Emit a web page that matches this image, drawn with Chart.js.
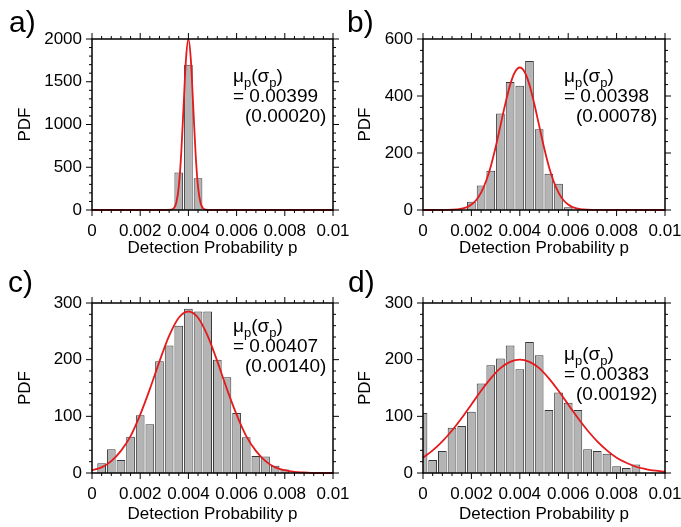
<!DOCTYPE html>
<html>
<head>
<meta charset="utf-8">
<script src="https://cdn.jsdelivr.net/npm/chart.js@4.4.0/dist/chart.umd.min.js"></script>
<style>
  body { margin: 0; background: #fff; width: 681px; height: 527px; position: relative; overflow: hidden; }
  canvas { position: absolute; }
</style>
</head>
<body>
<canvas id="pa" width="360" height="263" style="left:0;top:0"></canvas>
<canvas id="pb" width="341" height="263" style="left:340px;top:0"></canvas>
<canvas id="pc" width="360" height="264" style="left:0;top:263px"></canvas>
<canvas id="pd" width="341" height="264" style="left:340px;top:263px"></canvas>
<script>
// histogram bin centres (width 0.0004)
const bins = [0, 0.0004, 0.0008, 0.0012, 0.0016, 0.002, 0.0024, 0.0028, 0.0032, 0.0036, 0.004, 0.0044, 0.0048,
    0.0052, 0.0056, 0.006, 0.0064, 0.0068, 0.0072, 0.0076, 0.008, 0.0084, 0.0088, 0.0092, 0.0096, 0.01];

const histA = [null, null, null, null, null, null, null, null, null, 440, 1700, 370, null,
    null, null, null, null, null, null, null, null, null, null, null, null, null];
const histB = [null, null, null, null, null, 29, 86, 138, 339, 449, 436, 523, 283,
    127, 92, 10, null, null, null, null, null, null, null, null, null, null];
const histC = [null, 17, 42, 23, 64, 102, 86, 197, 225, 260, 290, 285, 285,
    200, 169, 106, 63, 30, 29, 13, 6, null, null, null, null, null];
const histD = [106, 23, 39, 80, 83, 108, 158, 190, 202, 225, 183, 231, 208,
    111, 142, 124, 111, 42, 39, 34, 12, 9, 15, null, null, null];

// fitted normal curves
const fitAx = [0, 0.003, 0.0033, 0.0034, 0.0035, 0.0036, 0.0037, 0.0038, 0.0039, 0.004, 0.0041, 0.0042,
    0.0043, 0.0044, 0.0045, 0.0046, 0.0047, 0.005, 0.01];
const fitA = [0, 0, 4, 22, 88, 270, 650, 1213, 1765, 2000, 1765, 1213, 650, 270, 88, 22, 4, 0, 0];
const fitBx = [0, 0.001, 0.0014, 0.0018, 0.002, 0.0022, 0.0024, 0.0026, 0.0028, 0.003, 0.0032, 0.0034, 0.0036,
    0.0038, 0.004, 0.0042, 0.0044, 0.0046, 0.0048, 0.005, 0.0052, 0.0054, 0.0056, 0.0058, 0.006, 0.0062,
    0.0066, 0.007, 0.01];
const fitB = [0, 0.3, 2, 9, 19, 35, 61, 100, 153, 220, 296, 372, 439, 484, 500, 484, 439, 372, 296, 220,
    153, 100, 61, 35, 19, 9, 2, 0.3, 0];
const fitC = [5, 10, 21, 39, 65, 103, 148, 197, 242, 274, 285, 274, 242, 197, 148, 103, 65, 39, 21, 10,
    5, 2, 1, 0, 0, 0];
const fitD = [27, 40, 56, 75, 97, 121, 145, 167, 185, 196, 200, 196, 185, 167, 145, 121, 97, 75, 56, 40,
    27, 18, 11, 7, 4, 2];

const xTicks = [0, 0.002, 0.004, 0.006, 0.008, 0.01];
const yTicksA = [0, 500, 1000, 1500, 2000];
const yTicksB = [0, 200, 400, 600];
const yTicksC = [0, 100, 200, 300];

const labels = ['a)', 'b)', 'c)', 'd)'];
const means = ['0.00399', '0.00398', '0.00407', '0.00383'];
const sds = ['(0.00020)', '(0.00078)', '(0.00140)', '(0.00192)'];

Chart.defaults.font.family = '"Liberation Sans", Arial, sans-serif';
Chart.defaults.color = '#000';

const FONT = '"Liberation Sans", Arial, sans-serif';

// frame box, minor ticks, panel letter and the mu/sigma note
const frame = {
    id: 'frame',
    afterDatasetsDraw(chart, args, o) {
        const { ctx, chartArea: a, scales: { x, y } } = chart;
        ctx.save();
        ctx.strokeStyle = '#000';
        ctx.lineWidth = 1;
        function tick(x1, y1, x2, y2) {
            ctx.beginPath(); ctx.moveTo(x1, y1); ctx.lineTo(x2, y2); ctx.stroke();
        }
        const xt = x.ticks.map(t => t.value);
        for (let i = 0; i < xt.length; i++) {
            const px = x.getPixelForValue(xt[i]);
            tick(px, a.bottom, px, a.bottom + 6);
            tick(px, a.top, px, a.top - 6);
            if (i < xt.length - 1) {
                for (let k = 1; k < 5; k++) {
                    const p = x.getPixelForValue(xt[i] + (xt[i + 1] - xt[i]) * k / 5);
                    tick(p, a.bottom, p, a.bottom + 3);
                    tick(p, a.top, p, a.top - 3);
                }
            }
        }
        const yt = y.ticks.map(t => t.value);
        for (let i = 0; i < yt.length; i++) {
            const py = y.getPixelForValue(yt[i]);
            tick(a.left, py, a.left - 6, py);
            tick(a.right, py, a.right + 6, py);
            if (i < yt.length - 1) {
                for (let k = 1; k < 5; k++) {
                    const p = y.getPixelForValue(yt[i] + (yt[i + 1] - yt[i]) * k / 5);
                    tick(a.left, p, a.left - 3, p);
                    tick(a.right, p, a.right + 3, p);
                }
            }
        }
        ctx.lineWidth = 1.5;
        ctx.strokeRect(a.left, a.top, a.right - a.left, a.bottom - a.top);

        ctx.fillStyle = '#000';
        ctx.textBaseline = 'alphabetic';
        ctx.textAlign = 'left';
        ctx.font = '30px ' + FONT;
        ctx.fillText(o.letter, o.lx, o.ly);

        // note
        const nx = a.left + 141;
        const ny = a.top + o.ny;
        ctx.textBaseline = 'middle';
        let cx = nx;
        const parts = [['μ', 0], ['p', 1], ['(σ', 0], ['p', 1], [')', 0]];
        parts.forEach(([t, sub]) => {
            ctx.font = (sub ? '13px ' : '19px ') + FONT;
            ctx.fillText(t, cx, ny + (sub ? 6 : 0));
            cx += ctx.measureText(t).width;
        });
        ctx.font = '19px ' + FONT;
        ctx.fillText('= ' + o.mean, nx, ny + 20);
        ctx.fillText(o.sd, nx + 12, ny + 40);
        ctx.restore();
    }
};

function panel(id, i, hist, fx, fy, yTicks, box) {
    const bars = bins.map((b, k) => ({ x: b, y: hist[k] }));
    const line = fx.map((v, k) => ({ x: v, y: fy[k] }));
    new Chart(document.getElementById(id), {
        type: 'bar',
        data: {
            datasets: [{
                type: 'line',
                data: line,
                borderColor: '#e41a1c',
                borderWidth: 1.8,
                pointRadius: 0,
                cubicInterpolationMode: 'monotone',
                fill: false,
                clip: 3,
                order: 0
            }, {
                type: 'bar',
                data: bars,
                backgroundColor: '#b4b4b4',
                borderColor: '#383838',
                borderWidth: 1,
                barPercentage: 1,
                categoryPercentage: 0.9,
                clip: { left: 0, top: 5, right: 5, bottom: 0 },
                order: 1
            }]
        },
        options: {
            responsive: false,
            animation: false,
            layout: { padding: { left: 0, right: box.right, top: box.top, bottom: 0 } },
            plugins: {
                legend: { display: false },
                tooltip: { enabled: false },
                frame: { letter: labels[i], lx: box.lx, ly: box.ly, ny: box.ny, mean: means[i], sd: sds[i] }
            },
            scales: {
                x: {
                    type: 'linear',
                    min: 0,
                    max: 0.01,
                    offset: false,
                    grid: { display: false, drawTicks: false },
                    border: { display: false },
                    afterBuildTicks: s => { s.ticks = xTicks.map(v => ({ value: v })); },
                    afterFit: s => { s.height = box.xH; s.paddingLeft = 0; s.paddingRight = 0; },
                    ticks: { padding: 11, maxRotation: 0, font: { size: 17 }, callback: v => String(v) },
                    title: { display: true, text: 'Detection Probability p', font: { size: 17 }, padding: { top: 0, bottom: box.tb } }
                },
                y: {
                    min: 0,
                    max: yTicks[yTicks.length - 1],
                    grid: { display: false, drawTicks: false },
                    border: { display: false },
                    afterBuildTicks: s => { s.ticks = yTicks.map(v => ({ value: v })); },
                    afterFit: s => { s.width = box.yW; s.paddingTop = 0; s.paddingBottom = 0; },
                    ticks: { padding: 10, font: { size: 17 }, callback: v => String(v) },
                    title: { display: true, text: 'PDF', font: { size: 17 }, padding: { top: 15, bottom: 0 } }
                }
            }
        },
        plugins: [frame]
    });
}

panel('pa', 0, histA, fitAx, fitA, yTicksA, { yW: 92, xH: 53, right: 27, top: 39, tb: 4, lx: 9, ly: 32, ny: 38 });
panel('pb', 1, histB, fitBx, fitB, yTicksB, { yW: 83, xH: 53, right: 16, top: 39, tb: 4, lx: 7, ly: 32, ny: 38 });
panel('pc', 2, histC, bins, fitC, yTicksC, { yW: 92, xH: 54, right: 27, top: 40, tb: 2, lx: 8, ly: 29, ny: 24 });
panel('pd', 3, histD, bins, fitD, yTicksC, { yW: 83, xH: 54, right: 16, top: 40, tb: 2, lx: 8, ly: 29, ny: 52 });
</script>
</body>
</html>
